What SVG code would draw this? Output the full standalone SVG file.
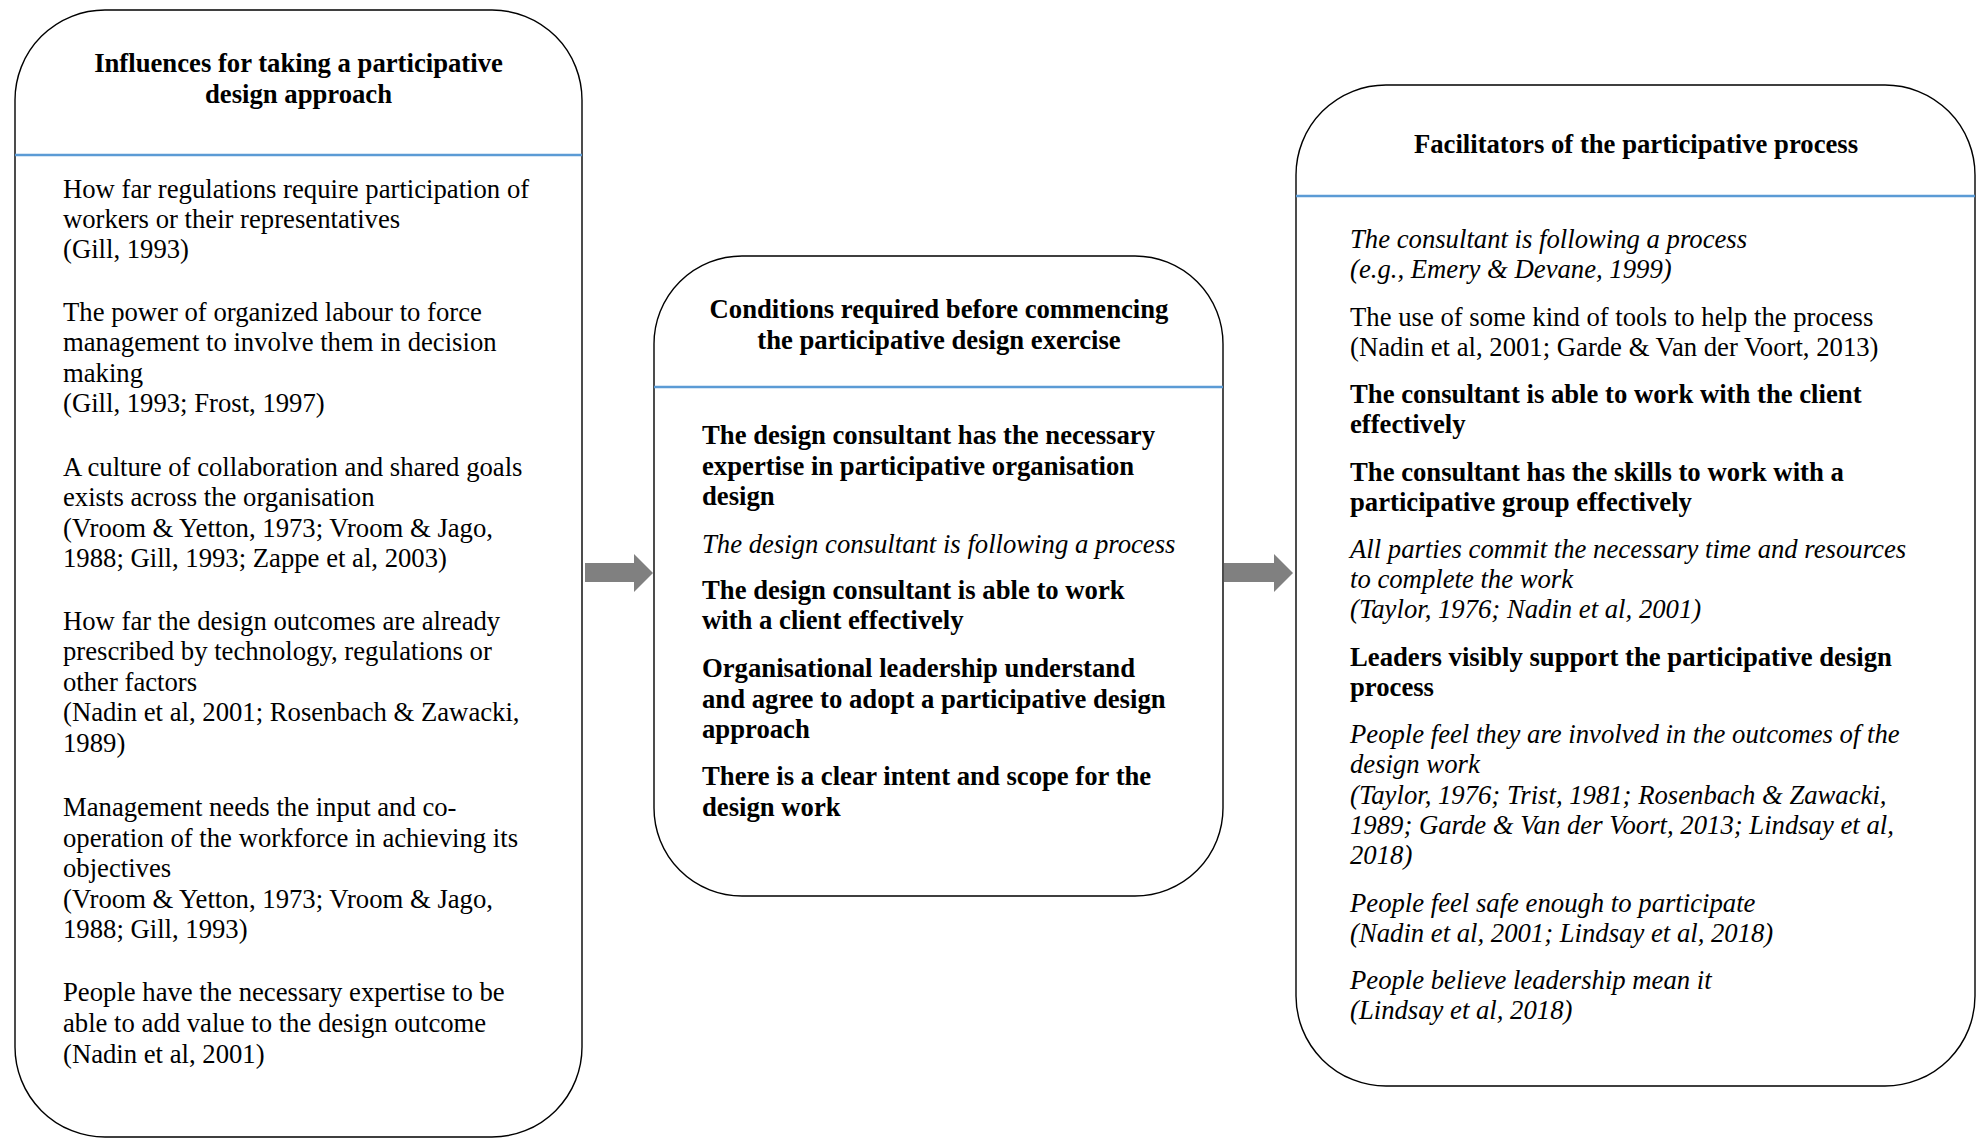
<svg xmlns="http://www.w3.org/2000/svg" width="1979" height="1138" viewBox="0 0 1979 1138">
  <style>
    text { font-family: "Liberation Serif", "Times New Roman", serif; font-size: 26.7px; fill: #000; }
    .h { font-weight: bold; text-anchor: middle; }
    .b { font-weight: bold; }
    .i { font-style: italic; }
    .box { fill: #fff; stroke: #000; stroke-width: 1.4; }
    .sep { stroke: #5B9BD5; stroke-width: 2.5; }
    .arrow { fill: #808080; stroke: none; }
  </style>
  <rect width="1979" height="1138" fill="#fff"/>

  <!-- Influences box -->
  <g id="influences">
    <rect class="box" x="15" y="10" width="567" height="1127" rx="90" ry="90"/>
    <line class="sep" x1="15" y1="155" x2="582" y2="155"/>
    <text class="h" x="298.5" y="72">Influences for taking a participative</text>
    <text class="h" x="298.5" y="103">design approach</text>
    <text x="63" y="198">How far regulations require participation of</text>
    <text x="63" y="228">workers or their representatives</text>
    <text x="63" y="258">(Gill, 1993)</text>
    <text x="63" y="321">The power of organized labour to force</text>
    <text x="63" y="351">management to involve them in decision</text>
    <text x="63" y="382">making</text>
    <text x="63" y="412">(Gill, 1993; Frost, 1997)</text>
    <text x="63" y="476">A culture of collaboration and shared goals</text>
    <text x="63" y="506">exists across the organisation</text>
    <text x="63" y="537">(Vroom &amp; Yetton, 1973; Vroom &amp; Jago,</text>
    <text x="63" y="567">1988; Gill, 1993; Zappe et al, 2003)</text>
    <text x="63" y="630">How far the design outcomes are already</text>
    <text x="63" y="660">prescribed by technology, regulations or</text>
    <text x="63" y="691">other factors</text>
    <text x="63" y="721">(Nadin et al, 2001; Rosenbach &amp; Zawacki,</text>
    <text x="63" y="752">1989)</text>
    <text x="63" y="816">Management needs the input and co-</text>
    <text x="63" y="847">operation of the workforce in achieving its</text>
    <text x="63" y="877">objectives</text>
    <text x="63" y="908">(Vroom &amp; Yetton, 1973; Vroom &amp; Jago,</text>
    <text x="63" y="938">1988; Gill, 1993)</text>
    <text x="63" y="1001">People have the necessary expertise to be</text>
    <text x="63" y="1032">able to add value to the design outcome</text>
    <text x="63" y="1063">(Nadin et al, 2001)</text>
  </g>

  <!-- Conditions box -->
  <g id="conditions">
    <rect class="box" x="654" y="256" width="569" height="640" rx="88" ry="88"/>
    <line class="sep" x1="654" y1="387" x2="1223" y2="387"/>
    <text class="h" x="939" y="318">Conditions required before commencing</text>
    <text class="h" x="939" y="349">the participative design exercise</text>
    <text class="b" x="702" y="444">The design consultant has the necessary</text>
    <text class="b" x="702" y="475">expertise in participative organisation</text>
    <text class="b" x="702" y="505">design</text>
    <text class="i" x="702" y="553">The design consultant is following a process</text>
    <text class="b" x="702" y="599">The design consultant is able to work</text>
    <text class="b" x="702" y="629">with a client effectively</text>
    <text class="b" x="702" y="677">Organisational leadership understand</text>
    <text class="b" x="702" y="708">and agree to adopt a participative design</text>
    <text class="b" x="702" y="738">approach</text>
    <text class="b" x="702" y="785">There is a clear intent and scope for the</text>
    <text class="b" x="702" y="816">design work</text>
  </g>

  <!-- Facilitators box -->
  <g id="facilitators">
    <rect class="box" x="1296" y="85" width="679" height="1001" rx="90" ry="90"/>
    <line class="sep" x1="1296" y1="196" x2="1975" y2="196"/>
    <text class="h" x="1636" y="153">Facilitators of the participative process</text>
    <text class="i" x="1350" y="248">The consultant is following a process</text>
    <text class="i" x="1350" y="278">(e.g., Emery &amp; Devane, 1999)</text>
    <text x="1350" y="326">The use of some kind of tools to help the process</text>
    <text x="1350" y="356">(Nadin et al, 2001; Garde &amp; Van der Voort, 2013)</text>
    <text class="b" x="1350" y="403">The consultant is able to work with the client</text>
    <text class="b" x="1350" y="433">effectively</text>
    <text class="b" x="1350" y="481">The consultant has the skills to work with a</text>
    <text class="b" x="1350" y="511">participative group effectively</text>
    <text class="i" x="1350" y="558">All parties commit the necessary time and resources</text>
    <text class="i" x="1350" y="588">to complete the work</text>
    <text class="i" x="1350" y="618">(Taylor, 1976; Nadin et al, 2001)</text>
    <text class="b" x="1350" y="666">Leaders visibly support the participative design</text>
    <text class="b" x="1350" y="696">process</text>
    <text class="i" x="1350" y="743">People feel they are involved in the outcomes of the</text>
    <text class="i" x="1350" y="773">design work</text>
    <text class="i" x="1350" y="804">(Taylor, 1976; Trist, 1981; Rosenbach &amp; Zawacki,</text>
    <text class="i" x="1350" y="834">1989; Garde &amp; Van der Voort, 2013; Lindsay et al,</text>
    <text class="i" x="1350" y="864">2018)</text>
    <text class="i" x="1350" y="912">People feel safe enough to participate</text>
    <text class="i" x="1350" y="942">(Nadin et al, 2001; Lindsay et al, 2018)</text>
    <text class="i" x="1350" y="989">People believe leadership mean it</text>
    <text class="i" x="1350" y="1019">(Lindsay et al, 2018)</text>
  </g>

  <!-- Block arrows between the stages -->
  <g id="connectors">
    <polygon class="arrow" points="585,563 634,563 634,554 653,573 634,592 634,582 585,582"/>
    <polygon class="arrow" points="1224,563 1274,563 1274,554 1293,573 1274,592 1274,582 1224,582"/>
  </g>
</svg>
